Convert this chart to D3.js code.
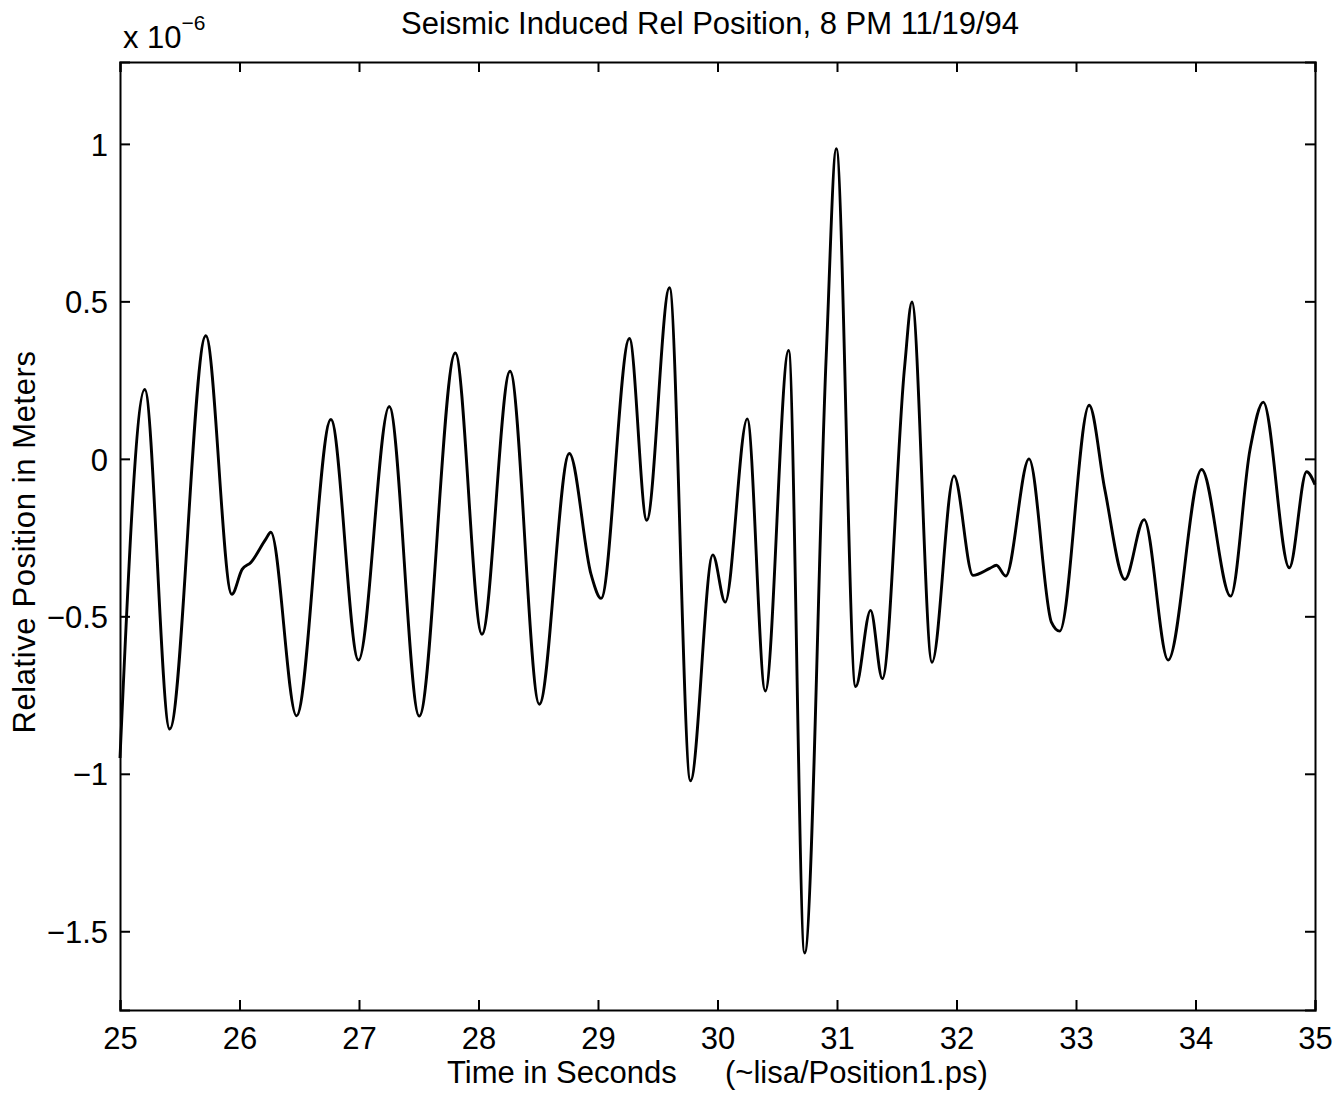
<!DOCTYPE html>
<html>
<head>
<meta charset="utf-8">
<script src="https://cdn.jsdelivr.net/npm/d3@7"></script>
<style>
  html, body { margin: 0; padding: 0; background: #fff; }
  svg { display: block; }
  text { font-family: "Liberation Sans", Arial, Helvetica, sans-serif; fill: #000; }
</style>
</head>
<body>
<svg id="chart" width="1340" height="1093"></svg>
<script>
// ---- data ----
const times = [25.0, 25.207, 25.416, 25.718, 25.936, 26.022, 26.095, 26.22, 26.262, 26.477,
  26.765, 26.996, 27.253, 27.504, 27.806, 28.029, 28.264, 28.509, 28.76, 28.942,
  29.026, 29.263, 29.408, 29.598, 29.774, 29.961, 30.064, 30.249, 30.4, 30.595,
  30.729, 30.91, 30.994, 31.156, 31.281, 31.379, 31.566, 31.627, 31.795, 31.979,
  32.138, 32.278, 32.334, 32.412, 32.607, 32.795, 32.864, 33.11, 33.241, 33.409,
  33.57, 33.771, 34.051, 34.294, 34.456, 34.567, 34.785, 34.93, 35.0];
const values = [-0.95, 0.22, -0.858, 0.391, -0.43, -0.351, -0.329, -0.255, -0.233, -0.816,
  0.125, -0.639, 0.166, -0.817, 0.336, -0.557, 0.278, -0.779, 0.017, -0.367,
  -0.443, 0.382, -0.195, 0.543, -1.022, -0.305, -0.455, 0.127, -0.737, 0.344,
  -1.569, 0.328, 0.985, -0.723, -0.481, -0.698, 0.293, 0.498, -0.646, -0.054,
  -0.37, -0.348, -0.338, -0.372, 0.0, -0.519, -0.547, 0.17, -0.097, -0.383,
  -0.193, -0.639, -0.034, -0.436, 0.029, 0.18, -0.346, -0.041, -0.082];
const xTickValues = [25, 26, 27, 28, 29, 30, 31, 32, 33, 34, 35];
const yTickValues = [-1.5, -1, -0.5, 0, 0.5, 1];
const yTickLabels = ["\u22121.5", "\u22121", "\u22120.5", "0", "0.5", "1"];
const titleText = "Seismic Induced Rel Position, 8 PM 11/19/94";
const xLabelParts = ["Time in Seconds", "(~lisa/Position1.ps)"];
const yLabelText = "Relative Position in Meters";

// ---- layout ----
const mLeft = 120, mRight = 1315, mTop = 62, mBottom = 1010;
const svg = d3.select("#chart");

const x = d3.scaleLinear().domain([25, 35]).range([mLeft, mRight]);
const y = d3.scaleLinear().domain([-1.75, 1.26]).range([mBottom, mTop]);

const fs = 31;

// line
const pts = times.map((t, i) => [t, values[i]]);
const line = d3.line().x(d => x(d[0])).y(d => y(d[1])).curve(d3.curveMonotoneX);
svg.append("path").datum(pts)
  .attr("d", line)
  .attr("fill", "none")
  .attr("stroke", "#000")
  .attr("stroke-width", 2.9)
  .attr("stroke-linejoin", "round");

// axes (inside ticks on all four sides)
const tickLen = 10;
const gB = svg.append("g").attr("transform", `translate(0,${mBottom})`)
  .call(d3.axisBottom(x).tickValues(xTickValues).tickSize(-tickLen).tickPadding(tickLen + 8).tickFormat(d3.format("d")));
const gT = svg.append("g").attr("transform", `translate(0,${mTop})`)
  .call(d3.axisTop(x).tickValues(xTickValues).tickSize(-tickLen).tickFormat(""));
const gL = svg.append("g").attr("transform", `translate(${mLeft},0)`)
  .call(d3.axisLeft(y).tickValues(yTickValues).tickSize(-tickLen).tickPadding(12)
    .tickFormat((d, i) => yTickLabels[i]));
const gR = svg.append("g").attr("transform", `translate(${mRight},0)`)
  .call(d3.axisRight(y).tickValues(yTickValues).tickSize(-tickLen).tickFormat(""));

[gB, gT, gL, gR].forEach(g => {
  g.select(".domain").attr("stroke", "#000").attr("stroke-width", 2);
  g.selectAll(".tick line").attr("stroke", "#000").attr("stroke-width", 2);
  g.selectAll("text").attr("font-size", fs).attr("font-family", "Liberation Sans, Arial, sans-serif").attr("fill", "#000");
});
gB.selectAll(".tick text").attr("dy", null).attr("y", 39);
gL.selectAll(".tick text").attr("dy", "0.36em");

// title
svg.append("text").attr("x", 710).attr("y", 34).attr("text-anchor", "middle")
  .attr("font-size", fs).text(titleText);

// exponent label
const ex = svg.append("text").attr("x", 123).attr("y", 48).attr("font-size", fs);
ex.append("tspan").text("x 10");
ex.append("tspan").attr("font-size", 21).attr("dy", -18).text("\u22126");

// x label
const xl = svg.append("text").attr("y", 1083).attr("font-size", fs);
xl.append("tspan").attr("x", 447).text(xLabelParts[0]);
xl.append("tspan").attr("x", 725).text(xLabelParts[1]);

// y label
svg.append("text").attr("transform", `translate(35,542) rotate(-90)`)
  .attr("text-anchor", "middle").attr("font-size", fs).attr("letter-spacing", 0.6).text(yLabelText);
</script>
</body>
</html>
